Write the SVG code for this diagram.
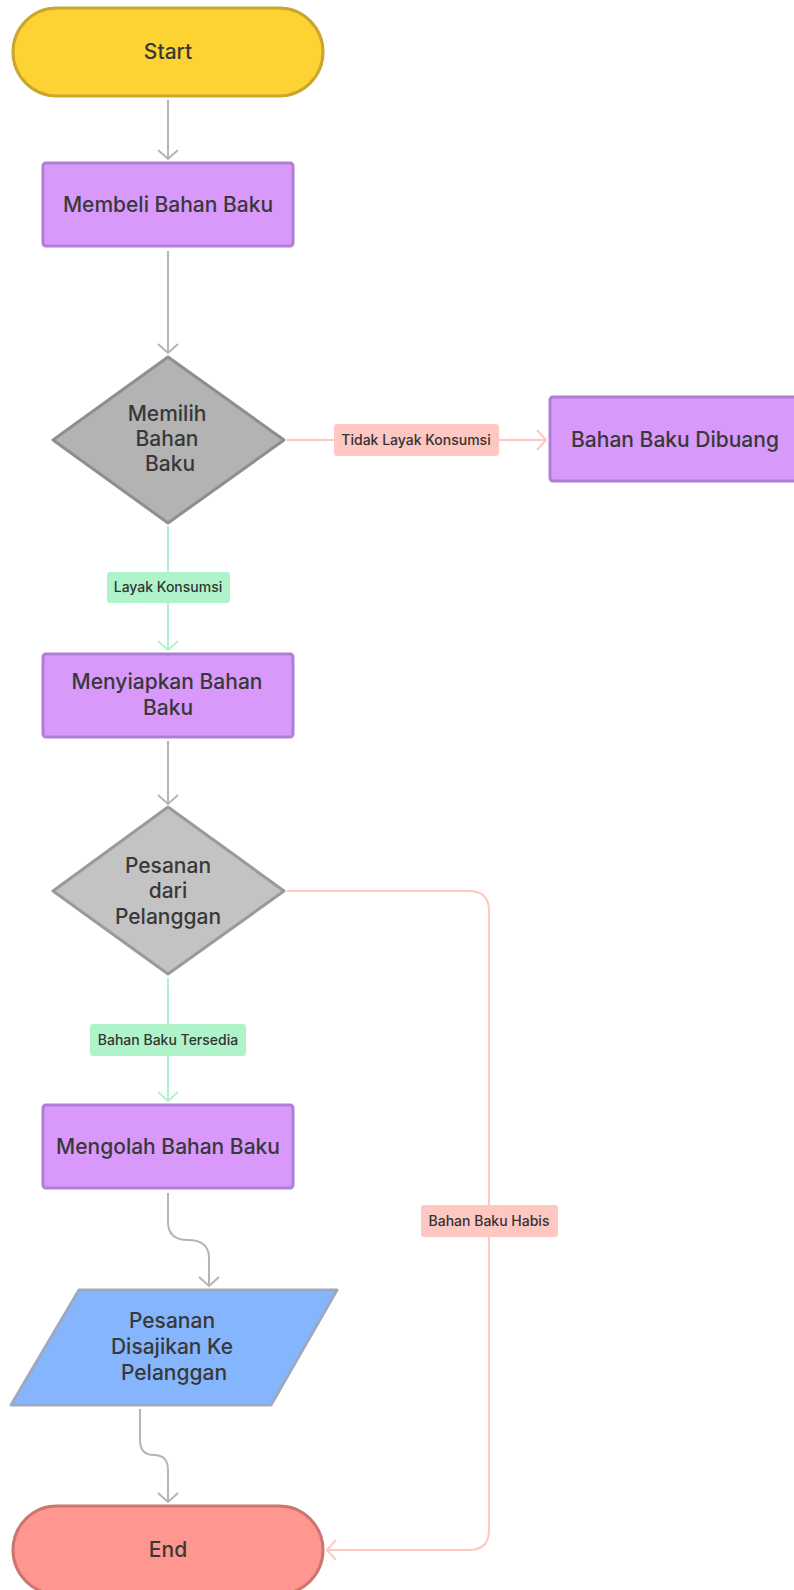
<svg xmlns="http://www.w3.org/2000/svg" width="794" height="1590" viewBox="0 0 794 1590">
<style>
.t{font-family:Inter,"Noto Sans","Liberation Sans",sans-serif;font-size:21px;font-weight:500;fill:#383838;text-anchor:middle}
.l{font-family:Inter,"Noto Sans","Liberation Sans",sans-serif;font-size:14px;font-weight:500;fill:#333;text-anchor:middle}
.proc{fill:#D899FB;stroke:#B07ED6;stroke-width:3}
.c{fill:none;stroke-width:2}
.g{stroke:#B5B5B5}
.r{stroke:#FFC7C2}
.gr{stroke:#B0F2CB}
</style>
<defs>
<marker id="ag" viewBox="-1 -1 12 22" markerWidth="12" markerHeight="22" refX="9" refY="10" orient="auto" markerUnits="userSpaceOnUse"><path d="M0,0 L9,10 L0,20" fill="none" stroke="#B5B5B5" stroke-width="2"/></marker>
<marker id="ar" viewBox="-1 -1 12 22" markerWidth="12" markerHeight="22" refX="9" refY="10" orient="auto" markerUnits="userSpaceOnUse"><path d="M0,0 L9,10 L0,20" fill="none" stroke="#FFC7C2" stroke-width="2"/></marker>
<marker id="agr" viewBox="-1 -1 12 22" markerWidth="12" markerHeight="22" refX="9" refY="10" orient="auto" markerUnits="userSpaceOnUse"><path d="M0,0 L9,10 L0,20" fill="none" stroke="#B0F2CB" stroke-width="2"/></marker>
</defs>
<g id="connectors">
<path class="c g" d="M168,100 L168,159" marker-end="url(#ag)"/>
<path class="c g" d="M168,251 L168,353" marker-end="url(#ag)"/>
<path class="c r" d="M287,440 L546,440" marker-end="url(#ar)"/>
<rect x="334" y="424" width="165" height="32" rx="3" fill="#FFC7C2"/>
<text class="l" x="416" y="445">Tidak Layak Konsumsi</text>
<path class="c gr" d="M168,526 L168,650" marker-end="url(#agr)"/>
<rect x="107" y="572" width="123" height="31" rx="3" fill="#AFF3CA"/>
<text class="l" x="168" y="592">Layak Konsumsi</text>
<path class="c g" d="M168,741 L168,804" marker-end="url(#ag)"/>
<path class="c gr" d="M168,978 L168,1101" marker-end="url(#agr)"/>
<rect x="90" y="1024" width="156" height="32" rx="3" fill="#AFF3CA"/>
<text class="l" x="168" y="1045">Bahan Baku Tersedia</text>
<path class="c r" d="M287,891 L469,891 Q489,891 489,911 L489,1530 Q489,1550 469,1550 L327,1550" marker-end="url(#ar)"/>
<rect x="421" y="1205" width="137" height="32" rx="3" fill="#FFC7C2"/>
<text class="l" x="489" y="1226">Bahan Baku Habis</text>
<path class="c g" d="M168,1193 L168,1222 Q168,1240 188,1240 Q209,1240 209,1258 L209,1286" marker-end="url(#ag)"/>
<path class="c g" d="M140,1409 L140,1440 Q140,1455 154,1455 Q168,1455 168,1470 L168,1502" marker-end="url(#ag)"/>
</g>
<g id="start">
<rect x="13" y="8" width="310" height="88" rx="44" fill="#FDD233" stroke="#C9A62D" stroke-width="3"/>
<text class="t" x="168" y="59">Start</text>
</g>
<g id="membeli">
<rect class="proc" x="43" y="163" width="250" height="83" rx="3"/>
<text class="t" x="168" y="212">Membeli Bahan Baku</text>
</g>
<g id="memilih">
<polygon points="168,357 284,440 168,523 53,440" fill="#B3B3B3" stroke="#8E8E8E" stroke-width="3" stroke-linejoin="round"/>
<text class="t" x="167" y="421">Memilih</text>
<text class="t" x="167" y="446">Bahan</text>
<text class="t" x="170" y="471">Baku</text>
</g>
<g id="dibuang">
<rect class="proc" x="550" y="397" width="250" height="84" rx="3"/>
<text class="t" x="675" y="447">Bahan Baku Dibuang</text>
</g>
<g id="menyiapkan">
<rect class="proc" x="43" y="654" width="250" height="83" rx="3"/>
<text class="t" x="167" y="689">Menyiapkan Bahan</text>
<text class="t" x="168" y="715">Baku</text>
</g>
<g id="pesanan">
<polygon points="168,807 284,891 168,974 53,891" fill="#C3C3C3" stroke="#9A9A9A" stroke-width="3" stroke-linejoin="round"/>
<text class="t" x="168" y="873">Pesanan</text>
<text class="t" x="168" y="898">dari</text>
<text class="t" x="168" y="924">Pelanggan</text>
</g>
<g id="mengolah">
<rect class="proc" x="43" y="1105" width="250" height="83" rx="3"/>
<text class="t" x="168" y="1154">Mengolah Bahan Baku</text>
</g>
<g id="disajikan">
<polygon points="79,1290 337,1290 271,1405 11,1405" fill="#85B5FC" stroke="#9BAAC2" stroke-width="3" stroke-linejoin="round"/>
<text class="t" x="172" y="1328">Pesanan</text>
<text class="t" x="172" y="1354">Disajikan Ke</text>
<text class="t" x="174" y="1380">Pelanggan</text>
</g>
<g id="end">
<rect x="13" y="1506" width="310" height="88" rx="44" fill="#FF968F" stroke="#CD7670" stroke-width="3"/>
<text class="t" x="168" y="1557">End</text>
</g>
</svg>
